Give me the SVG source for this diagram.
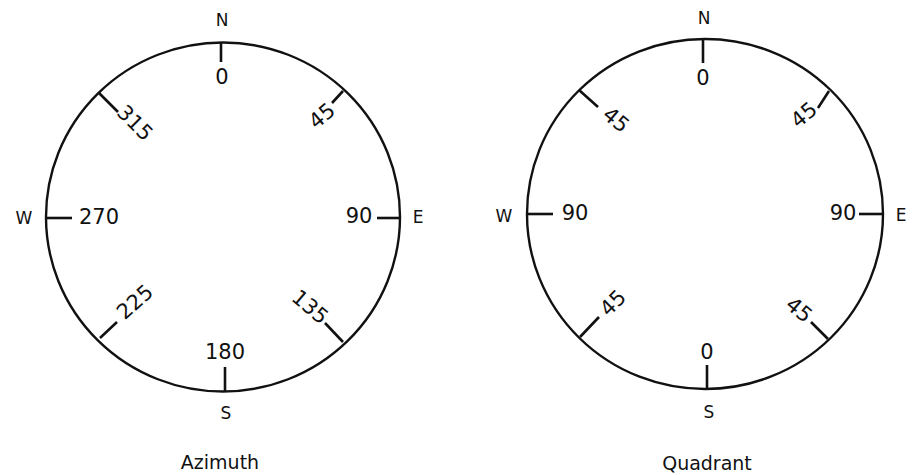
<svg xmlns="http://www.w3.org/2000/svg" width="916" height="475" viewBox="0 0 916 475">
<style>
.rim{fill:none;stroke:#111;stroke-width:2.4}
.tick{stroke:#111;stroke-width:2.6;stroke-linecap:butt}
.dir{font-family:"DejaVu Sans",sans-serif;font-size:17px;fill:#111;text-anchor:middle}
.num{font-family:"DejaVu Sans",sans-serif;font-size:21px;fill:#111;text-anchor:middle;dominant-baseline:central}
.cap{font-family:"DejaVu Sans",sans-serif;font-size:19px;fill:#111;text-anchor:middle}
</style>
<rect width="916" height="475" fill="#fff"/>
<g id="azimuth">
<ellipse class="rim" cx="223" cy="217" rx="177" ry="174.5"/>
<g id="az-ticks">
<line class="tick" x1="221" y1="42" x2="221" y2="62"/>
<line class="tick" x1="343" y1="91" x2="332" y2="103"/>
<line class="tick" x1="400" y1="218" x2="377" y2="218"/>
<line class="tick" x1="343" y1="342" x2="325" y2="323"/>
<line class="tick" x1="225" y1="391" x2="225" y2="367"/>
<line class="tick" x1="100" y1="338" x2="117" y2="322"/>
<line class="tick" x1="46" y1="218" x2="72" y2="218"/>
<line class="tick" x1="99" y1="93" x2="118" y2="112"/>
</g>
<text class="dir" x="222" y="26">N</text>
<text class="dir" x="226" y="419">S</text>
<text class="dir" x="24" y="224">W</text>
<text class="dir" x="418" y="223">E</text>
<text class="num" x="222" y="77">0</text>
<text class="num" transform="translate(322,116) rotate(-40)">45</text>
<text class="num" x="359" y="216">90</text>
<text class="num" transform="translate(310,307) rotate(40)">135</text>
<text class="num" x="225" y="352">180</text>
<text class="num" transform="translate(135,302) rotate(-42)">225</text>
<text class="num" x="99" y="217">270</text>
<text class="num" transform="translate(135,123) rotate(45)">315</text>
<text class="cap" x="220" y="469">Azimuth</text>
</g>
<g id="quadrant">
<ellipse class="rim" cx="705" cy="214" rx="178" ry="175"/>
<g id="qd-ticks">
<line class="tick" x1="703" y1="39" x2="703" y2="63"/>
<line class="tick" x1="829" y1="91" x2="818" y2="108"/>
<line class="tick" x1="883" y1="214" x2="859" y2="214"/>
<line class="tick" x1="828" y1="339" x2="811" y2="322"/>
<line class="tick" x1="707" y1="389" x2="707" y2="365"/>
<line class="tick" x1="580" y1="337" x2="599" y2="317"/>
<line class="tick" x1="527" y1="214" x2="553" y2="214"/>
<line class="tick" x1="579" y1="90" x2="598" y2="107"/>
</g>
<text class="dir" x="704" y="24">N</text>
<text class="dir" x="709" y="418">S</text>
<text class="dir" x="504" y="222">W</text>
<text class="dir" x="901" y="221">E</text>
<text class="num" x="703" y="78">0</text>
<text class="num" transform="translate(804,115) rotate(-40)">45</text>
<text class="num" x="843" y="213">90</text>
<text class="num" transform="translate(799,310) rotate(40)">45</text>
<text class="num" x="707" y="352">0</text>
<text class="num" transform="translate(613,303) rotate(-45)">45</text>
<text class="num" x="575" y="213">90</text>
<text class="num" transform="translate(616,120) rotate(40)">45</text>
<text class="cap" x="707" y="470">Quadrant</text>
</g>
</svg>
